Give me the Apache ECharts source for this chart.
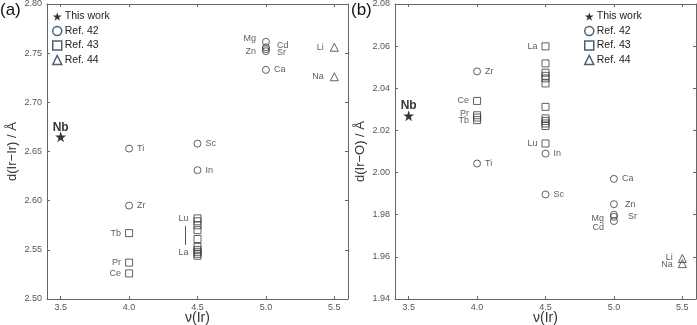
<!DOCTYPE html>
<html>
<head>
<meta charset="utf-8">
<script src="https://cdn.jsdelivr.net/npm/echarts@6/dist/echarts.min.js"></script>
<style>
  html, body { margin: 0; padding: 0; background: #fff; }
  #chart { width: 697px; height: 325px; }
</style>
</head>
<body>
<div id="chart"></div>
<script>
// x ticks shared by both panels
var xTicks = [3.5, 4.0, 4.5, 5.0, 5.5];

// (a) d(Ir-Ir): [v(Ir), distance, label]
var aThisWork = [[3.5, 2.665, 'Nb']];
var aRef42 = [
    [4.0, 2.653, 'Ti'], [4.0, 2.595, 'Zr'],
    [4.5, 2.658, 'Sc'], [4.5, 2.631, 'In'],
    [5.0, 2.7615, 'Mg'], [5.0, 2.756, 'Cd'], [5.0, 2.754, 'Sr'], [5.0, 2.752, 'Zn'],
    [5.0, 2.733, 'Ca']
];
var aRef43 = [
    [4.0, 2.567, 'Tb'], [4.0, 2.537, 'Pr'], [4.0, 2.526, 'Ce'],
    [4.5, 2.582, 'Lu'], [4.5, 2.579, ''], [4.5, 2.575, ''], [4.5, 2.570, ''],
    [4.5, 2.561, ''], [4.5, 2.553, ''], [4.5, 2.550, ''], [4.5, 2.548, 'La'],
    [4.5, 2.546, ''], [4.5, 2.544, '']
];
var aRef44 = [[5.5, 2.756, 'Li'], [5.5, 2.726, 'Na']];

// (b) d(Ir-O)
var bThisWork = [[3.5, 2.027, 'Nb']];
var bRef42 = [
    [4.0, 2.048, 'Zr'], [4.0, 2.0043, 'Ti'],
    [4.5, 2.009, 'In'], [4.5, 1.9896, 'Sc'],
    [5.0, 1.997, 'Ca'], [5.0, 1.985, 'Zn'], [5.0, 1.980, 'Sr'],
    [5.0, 1.979, 'Mg'], [5.0, 1.977, 'Cd']
];
var bRef43 = [
    [4.0, 2.034, 'Ce'], [4.0, 2.0272, 'Pr'], [4.0, 2.0261, ''], [4.0, 2.0249, 'Tb'],
    [4.5, 2.0599, 'La'], [4.5, 2.0518, ''], [4.5, 2.0474, ''], [4.5, 2.0459, ''],
    [4.5, 2.0447, ''], [4.5, 2.0423, ''], [4.5, 2.0312, ''], [4.5, 2.0257, ''],
    [4.5, 2.0245, ''], [4.5, 2.0233, ''], [4.5, 2.0221, ''], [4.5, 2.0138, 'Lu']
];
var bRef44 = [[5.5, 1.9592, 'Li'], [5.5, 1.9568, 'Na']];

// label placement: [position, dx, dy]
var labelPlace = {
    a: {
        Nb: ['top', 0, 3], Ti: ['right', 0, 0], Zr: ['right', 0, 0], Sc: ['right', 0, 0], In: ['right', 0, 0],
        Mg: ['left', -2, -3], Zn: ['left', -2, 0], Cd: ['right', 3, -2], Sr: ['right', 3, 3], Ca: ['right', 0, 0],
        Li: ['left', -2, 0], Na: ['left', -2, 0],
        Tb: ['left', 0, 0], Pr: ['left', 0, 0], Ce: ['left', 0, 0], Lu: ['left', -1, 0], La: ['left', -1, 1]
    },
    b: {
        Nb: ['top', 0, 3], Zr: ['right', 0, 0], Ti: ['right', 0, 0], In: ['right', 0, 0], Sc: ['right', 0, 0],
        Ca: ['right', 0, 0], Zn: ['right', 3, 0], Sr: ['right', 6, 2], Mg: ['left', -2, 2], Cd: ['left', -2, 6],
        Li: ['left', -1, -1], Na: ['left', -1, 1],
        Ce: ['left', 0, 0], Pr: ['left', 0, -2], Tb: ['left', 0, 0], La: ['left', 0, 0], Lu: ['left', 0, 0]
    }
};

var starPath = 'path://M50,0 L61,35 L98,35 L68,57 L79,91 L50,70 L21,91 L32,57 L2,35 L39,35 Z';
var legendColor = '#1d3a56';
var markColor = '#3a3a3a';

function points(arr, panel){
    return arr.map(function(p){
        var item = {value: [p[0], p[1]], name: p[2]};
        var pl = labelPlace[panel][p[2]];
        if(p[2] && pl){
            item.label = {
                show: true,
                formatter: p[2],
                position: pl[0],
                offset: [pl[1], pl[2]],
                distance: p[2] == 'Nb' ? 1 : 4,
                fontSize: p[2] == 'Nb' ? 12 : 9,
                fontWeight: p[2] == 'Nb' ? 'bold' : 'normal',
                color: p[2] == 'Nb' ? '#000' : '#333',
                fontFamily: 'Liberation Sans'
            };
        }
        return item;
    });
}

function panelSeries(idx, panel, star, r42, r43, r44){
    var hollow = {color: 'rgba(255,255,255,0)', borderColor: markColor, borderWidth: 1};
    var list = [
        {name: 'This work', type: 'scatter', xAxisIndex: idx, yAxisIndex: idx,
            symbol: starPath, symbolSize: 11, itemStyle: {color: '#000'}, data: points(star, panel)},
        {name: 'Ref. 42', type: 'scatter', xAxisIndex: idx, yAxisIndex: idx,
            symbol: 'circle', symbolSize: 7, itemStyle: hollow, data: points(r42, panel)},
        {name: 'Ref. 43', type: 'scatter', xAxisIndex: idx, yAxisIndex: idx,
            symbol: 'rect', symbolSize: 7, itemStyle: hollow, data: points(r43, panel)},
        {name: 'Ref. 44', type: 'scatter', xAxisIndex: idx, yAxisIndex: idx,
            symbol: 'triangle', symbolSize: 8, itemStyle: hollow, data: points(r44, panel)}
    ];
    list.forEach(function(s){ s.emphasis = {disabled: true}; s.silent = true; });
    return list;
}

var series = panelSeries(0, 'a', aThisWork, aRef42, aRef43, aRef44)
    .concat(panelSeries(1, 'b', bThisWork, bRef42, bRef43, bRef44));
// Lu - La bracket in (a)
series[2].markLine = {
    silent: true, symbol: 'none', label: {show: false},
    lineStyle: {color: '#555', type: 'solid', width: 1},
    data: [[{coord: [4.41, 2.5745]}, {coord: [4.41, 2.555]}]]
};

function legendFor(left){
    var hollow = function(icon){
        return {name: icon[0], icon: icon[1], itemStyle: {color: 'rgba(0,0,0,0)', borderColor: legendColor, borderWidth: 1.5}};
    };
    return {
        orient: 'vertical', left: left, top: 11, padding: 0, itemGap: 3.5, itemWidth: 9, itemHeight: 9,
        textStyle: {fontSize: 10.5, color: '#222', fontFamily: 'Liberation Sans', padding: [0, 0, 0, -2]},
        selectedMode: false,
        data: [
            {name: 'This work', icon: starPath, itemStyle: {color: '#000'}},
            hollow(['Ref. 42', 'circle']), hollow(['Ref. 43', 'rect']), hollow(['Ref. 44', 'triangle'])
        ]
    };
}

var axisGray = '#666';
function xAx(gridIndex, pos){
    return {
        type: 'value', gridIndex: gridIndex, position: pos, min: 3.4, max: 5.6,
        name: pos == 'bottom' ? 'ν(Ir)' : '', nameLocation: 'middle', nameGap: 12, nameMoveOverlap: false,
        nameTextStyle: {fontSize: 14, color: '#333', fontFamily: 'Liberation Sans'},
        axisLine: {show: true, lineStyle: {color: axisGray}},
        axisTick: {show: true, inside: true, length: 3, customValues: xTicks, lineStyle: {color: axisGray}},
        axisLabel: {show: pos == 'bottom', customValues: xTicks, fontSize: 9, color: '#555', margin: 4,
            fontFamily: 'Liberation Sans', formatter: function(v){ return v.toFixed(1); }},
        splitLine: {show: false}
    };
}
function yAx(gridIndex, pos, min, max, step, title){
    return {
        type: 'value', gridIndex: gridIndex, position: pos, min: min, max: max, interval: step,
        name: pos == 'left' ? title : '', nameLocation: 'middle', nameGap: 28, nameMoveOverlap: false,
        nameTextStyle: {fontSize: 13, color: '#333', fontFamily: 'Liberation Sans'},
        axisLine: {show: true, lineStyle: {color: axisGray}},
        axisTick: {show: true, inside: true, length: 3, lineStyle: {color: axisGray}},
        axisLabel: {show: pos == 'left', fontSize: 9, color: '#555', margin: 5,
            fontFamily: 'Liberation Sans', formatter: function(v){ return v.toFixed(2); }},
        splitLine: {show: false}
    };
}

var chart = echarts.init(document.getElementById('chart'), null, {renderer: 'canvas'});
chart.setOption({
    animation: false,
    backgroundColor: '#fff',
    grid: [
        {left: 47, top: 4, width: 301, height: 295, outerBoundsMode: 'none', containLabel: false},
        {left: 395, top: 4, width: 301, height: 295, outerBoundsMode: 'none', containLabel: false}
    ],
    xAxis: [xAx(0, 'bottom'), xAx(1, 'bottom'), xAx(0, 'top'), xAx(1, 'top')],
    yAxis: [
        yAx(0, 'left', 2.5, 2.8, 0.05, 'd(Ir−Ir) / Å'),
        yAx(1, 'left', 1.94, 2.08, 0.02, 'd(Ir−O) / Å'),
        yAx(0, 'right', 2.5, 2.8, 0.05, ''),
        yAx(1, 'right', 1.94, 2.08, 0.02, '')
    ],
    legend: [legendFor(52), legendFor(584)],
    graphic: [
        {type: 'text', left: 0, top: 2, style: {text: '(a)', fontSize: 17, fill: '#111', fontFamily: 'Liberation Sans'}},
        {type: 'text', left: 351, top: 2, style: {text: '(b)', fontSize: 17, fill: '#111', fontFamily: 'Liberation Sans'}}
    ],
    series: series
});
</script>
</body>
</html>
